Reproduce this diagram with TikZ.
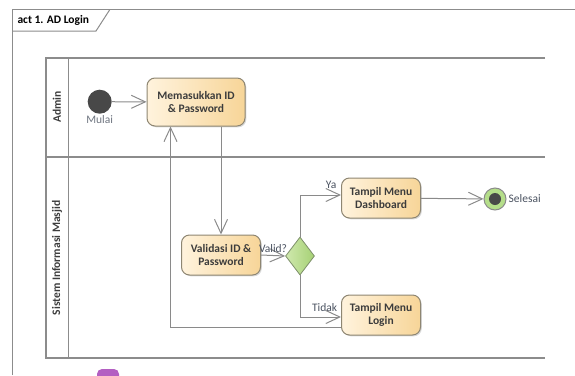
\documentclass[tikz,border=0pt]{standalone}
\usepackage{fontspec}
\setmainfont{Carlito}
\usetikzlibrary{arrows.meta,shapes.geometric,shadows}

\newcommand{\dfont}{\fontsize{11.5}{13.5}\selectfont}

\definecolor{edgeGrey}{HTML}{8A8A8A}
\definecolor{laneGrey}{HTML}{8C8C8C}
\definecolor{boxEdge}{HTML}{8E8672}
\definecolor{boxLight}{HTML}{FFF3DD}
\definecolor{boxDark}{HTML}{F7D598}
\definecolor{boxText}{HTML}{3C3C3C}
\definecolor{decLight}{HTML}{CFE8AE}
\definecolor{decDark}{HTML}{A6D174}
\definecolor{decEdge}{HTML}{7D8F6A}
\definecolor{endGreen}{HTML}{B5DE8A}
\definecolor{dotGrey}{HTML}{484848}
\definecolor{lblGrey}{HTML}{4A5260}
\definecolor{blobPurple}{HTML}{B35FC2}

\tikzset{
  action/.style={draw=boxEdge, line width=1pt, rounded corners=8pt,
    left color=boxLight, right color=boxDark, align=center,
    font=\dfont\bfseries, text=boxText, minimum width=79pt, minimum height=40pt,
    drop shadow={shadow xshift=1.3pt, shadow yshift=-1.3pt, opacity=.3}},
  decision/.style={diamond, draw=decEdge, line width=.8pt, left color=decLight,
    right color=decDark, inner sep=0pt, minimum width=29pt, minimum height=38pt},
  initial/.style={circle, fill=dotGrey, minimum size=24pt, inner sep=0pt},
  final/.style={circle, draw=edgeGrey, line width=1pt, fill=endGreen,
    minimum size=22pt, inner sep=0pt},
  finaldot/.style={circle, fill=dotGrey, minimum size=12pt, inner sep=0pt},
  flow/.style={draw=edgeGrey, line width=1pt, ->},
  lbl/.style={text=lblGrey, inner sep=2pt, font=\dfont},
  laneline/.style={draw=laneGrey, line width=1.8pt},
  frameline/.style={draw=laneGrey, line width=1pt},
  lanelabel/.style={rotate=90, font=\dfont\bfseries, text=boxText}
}

\begin{document}
\begin{tikzpicture}[x=1pt, y=-1pt, font=\dfont,
    >={Straight Barb[length=14pt,width=13pt]}]
  \useasboundingbox (0,0) rectangle (575,375);
  \draw[frameline] (12.5,375) -- (12.5,9.3) -- (575,9.3);
  \draw[frameline] (12.5,31) -- (96,31) -- (110,9.3);
  \node[anchor=west, font=\dfont\bfseries] (title) at (14,20) {act 1. AD Login};

  \draw[laneline] (545,57.7) -- (46,57.7) -- (46,358) -- (545,358);
  \draw[laneline] (68.5,57.7) -- (68.5,358);
  \draw[laneline] (46,156.7) -- (545,156.7);
  \node[lanelabel] (admin) at (57,107) {Admin};
  \node[lanelabel] (sim) at (57,258) {Sistem Informasi Masjid};

  \node[initial, label={[lbl, text=lblGrey!80, inner sep=1pt]below:Mulai}] (start) at (99.7,101.7) {};
  \node[action, minimum width=98pt, minimum height=48pt] (enter) at (196,102) {Memasukkan ID\\\& Password};
  \node[action] (valid) at (221,255) {Validasi ID \&\\Password};
  \node[decision] (dec) at (300,256) {};
  \node[action] (dash) at (381,198) {Tampil Menu\\Dashboard};
  \node[action] (login) at (381,315) {Tampil Menu\\Login};
  \node[final, label={[lbl]right:Selesai}] (end) at (495,199) {};
  \node[finaldot] (enddot) at (end) {};

  \draw[flow] (start) -- (enter);
  \draw[flow] (enter.south -| valid.north) -- (valid.north);
  \draw[flow] (valid.east) -- node[above, lbl] {Valid?} (dec.west);
  \draw[flow] (dec.north) |- node[pos=.88, above=4pt, lbl] {Ya} ([yshift=3pt]dash.west);
  \draw[flow] (dash) -- (end);
  \draw[flow] (dec.south) |- node[pos=.8, above=3pt, lbl] {Tidak} ([yshift=-2pt]login.west);
  \draw[flow] ([yshift=-12pt]login.west) -| ([xshift=-25.5pt]enter.south);

  \fill[blobPurple, rounded corners=5pt] (97,369) rectangle (119,392);
\end{tikzpicture}
\end{document}
